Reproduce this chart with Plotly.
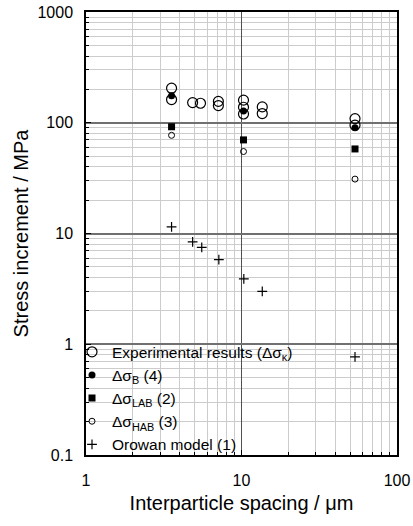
import plotly.graph_objects as go

# ---- data ----
exp_x = [3.55, 3.55, 4.85, 5.45, 7.1, 7.1, 10.3, 10.3, 10.3, 13.6, 13.6, 53.7, 53.7]
exp_y = [205, 162, 152, 150, 156, 143, 160, 138, 120, 139, 121, 109, 95]

calc_x = [3.55, 10.3, 53.7]
b_y = [175, 128, 90]
lab_y = [92, 70, 58]
hab_y = [77, 55, 31]

orowan_x = [3.55, 4.85, 5.55, 7.15, 10.35, 13.6, 53.7]
orowan_y = [11.5, 8.4, 7.5, 5.8, 3.9, 3.0, 0.77]

x_tickvals = [1, 10, 100]
x_ticktext = ["1", "10", "100"]
y_tickvals = [0.1, 1, 10, 100, 1000]
y_ticktext = ["0.1", "1", "10", "100", "1000"]

names = [
    "Experimental results (Δσ<sub>κ</sub>)",
    "Δσ<sub>B</sub> (4)",
    "Δσ<sub>LAB</sub> (2)",
    "Δσ<sub>HAB</sub> (3)",
    "Orowan model (1)",
]

FONT = "Arial, Liberation Sans, sans-serif"

fig = go.Figure()
fig.add_trace(go.Scatter(x=exp_x, y=exp_y, mode="markers", name=names[0],
                         marker=dict(symbol="circle-open", size=10, color="black",
                                     line=dict(width=1.2, color="black"))))
fig.add_trace(go.Scatter(x=calc_x, y=b_y, mode="markers", name=names[1],
                         marker=dict(symbol="circle", size=7, color="black")))
fig.add_trace(go.Scatter(x=calc_x, y=lab_y, mode="markers", name=names[2],
                         marker=dict(symbol="square", size=7, color="black")))
fig.add_trace(go.Scatter(x=calc_x, y=hab_y, mode="markers", name=names[3],
                         marker=dict(symbol="circle-open", size=6, color="black",
                                     line=dict(width=1, color="black"))))
fig.add_trace(go.Scatter(x=orowan_x, y=orowan_y, mode="markers", name=names[4],
                         marker=dict(symbol="cross-thin-open", size=7, color="black",
                                     line=dict(width=1.2, color="black"))))

# white legend background box (above gridlines, below markers)
fig.add_shape(type="rect", xref="paper", yref="paper", x0=0, x1=0.698, y0=0, y1=0.248,
              fillcolor="white", line=dict(width=0), layer="between")

fig.update_layout(
    width=413, height=526,
    margin=dict(l=86, r=16, t=12, b=71, autoexpand=False),
    paper_bgcolor="white", plot_bgcolor="white",
    font=dict(family=FONT, size=16, color="black"),
    showlegend=True,
    legend=dict(x=-0.045, xanchor="left", y=-0.014, yanchor="bottom",
                bgcolor="rgba(0,0,0,0)", borderwidth=0,
                font=dict(family=FONT, size=15.5, color="black"),
                itemwidth=30, tracegroupgap=0),
    xaxis=dict(type="log", range=[0, 2], tickvals=x_tickvals, ticktext=x_ticktext,
               automargin=False,
               showline=True, linecolor="black", linewidth=1.5, mirror=True,
               ticks="inside", ticklen=5, tickcolor="black",
               showgrid=True, gridcolor="#505050", gridwidth=1,
               zeroline=False, ticklabelstandoff=10,
               tickfont=dict(size=16),
               title=dict(text="Interparticle spacing / μm", font=dict(size=20), standoff=8),
               minor=dict(dtick="D1", showgrid=True, gridcolor="#cccccc", gridwidth=1.2,
                          ticks="inside", ticklen=3, tickcolor="black")),
    yaxis=dict(type="log", range=[-1, 3], tickvals=y_tickvals, ticktext=y_ticktext,
               automargin=False,
               showline=True, linecolor="black", linewidth=1.5, mirror=True,
               ticks="inside", ticklen=5, tickcolor="black",
               showgrid=True, gridcolor="#707070", gridwidth=2,
               zeroline=False, ticklabelstandoff=8,
               tickfont=dict(size=16),
               title=dict(text="Stress increment / MPa", font=dict(size=20), standoff=3),
               minor=dict(dtick="D1", showgrid=True, gridcolor="#cccccc", gridwidth=1.2,
                          ticks="inside", ticklen=3, tickcolor="black")),
)

fig.write_html("out.html", config={"displayModeBar": False},
               post_script="document.body.style.margin='0';document.body.style.padding='0';")
